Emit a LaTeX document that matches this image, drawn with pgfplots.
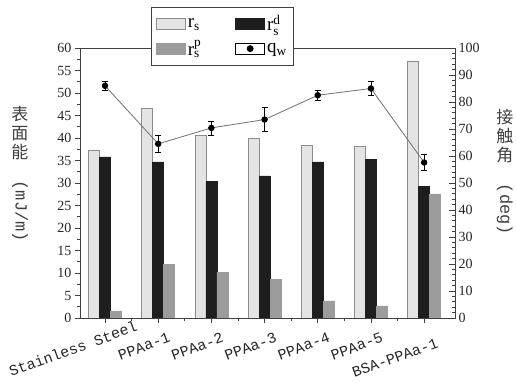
\documentclass[border=0pt]{standalone}
\usepackage{fontspec}
\setmainfont{Liberation Serif}
\newfontfamily\cjk{Noto Sans CJK SC}
\newfontfamily\monof{Liberation Mono}
\usepackage{pgfplots}
\pgfplotsset{compat=1.18}
\pgfplotsset{barleg/.style={legend image code/.code={\draw[##1] (0pt,-5.5pt) rectangle (29pt,5.5pt);}}}

\definecolor{lightbar}{HTML}{E4E4E4}
\definecolor{lightedge}{HTML}{8C8C8C}
\definecolor{darkbar}{HTML}{1E1E1E}
\definecolor{midbar}{HTML}{9C9C9C}
\definecolor{framec}{HTML}{404040}
\definecolor{linec}{HTML}{707070}

\begin{document}
\begin{tikzpicture}
\begin{axis}[name=ax, scale only axis, width=375pt, height=270pt,
  xmin=-0.47, xmax=6.58, ymin=0, ymax=60,
  ybar=0pt, bar width=11pt,
  xtick={0,...,6},
  xticklabels={{\raisebox{4.4pt}[\height][\depth]{Stainless Steel}\hspace*{-22.9pt}},PPAa-1,PPAa-2,PPAa-3,PPAa-4,PPAa-5,{\raisebox{-5.4pt}[\height][\depth]{BSA-PPAa-1}}},
  minor x tick num=1,
  ytick={0,5,...,60}, minor y tick num=1,
  tick align=outside, ytick pos=left, xtick pos=bottom,
  major tick length=5pt, minor tick length=3pt,
  axis line style={framec, line width=0.8pt},
  every tick/.style={framec, line width=0.7pt},
  /pgf/number format/assume math mode=true,
  yticklabel style={font=\fontsize{14}{14}\selectfont, text=black!85},
  x tick label style={font=\fontsize{15}{15}\selectfont\monof, text=black!85, rotate=20, anchor=north east, inner sep=0pt, xshift=6pt, yshift=-12pt},
  ylabel={{\cjk 表}\\{\cjk 面}\\{\cjk 能}\\[3pt]\rotatebox{-90}{\monof (mJ/m)}},
  ylabel style={rotate=-90, align=center, font=\fontsize{17}{19}\selectfont, text=black!75, at={(axis description cs:-0.16,0.533)}, anchor=center},
  legend style={at={(0.189,1.152)}, anchor=north west, draw=framec, line width=0.8pt, fill=white,
    font=\fontsize{19}{19}\selectfont, inner xsep=5pt, inner ysep=6pt, row sep=4pt,
    /tikz/every even column/.append style={column sep=32pt}},
  legend columns=2, legend cell align=left,
]
\addplot[fill=lightbar, draw=lightedge, line width=0.5pt, barleg]
  coordinates {(0,37.2) (1,46.6) (2,40.7) (3,39.9) (4,38.4) (5,38.2) (6,57.0)};
\addlegendentry{$\mathrm{r}_{\mathrm{s}}$}
\addplot[fill=darkbar, draw=darkbar, line width=0.5pt, barleg]
  coordinates {(0,35.8) (1,34.7) (2,30.3) (3,31.6) (4,34.7) (5,35.3) (6,29.3)};
\addlegendentry{$\mathrm{r}_{\mathrm{s}}^{\mathrm{d}}$}
\addplot[fill=midbar, draw=midbar, line width=0.5pt, barleg]
  coordinates {(0,1.6) (1,11.9) (2,10.2) (3,8.6) (4,3.8) (5,2.7) (6,27.6)};
\addlegendentry{$\mathrm{r}_{\mathrm{s}}^{\mathrm{p}}$}
\addlegendimage{legend image code/.code={\path (0pt,-5.5pt) rectangle (29pt,5.5pt); \fill[black] (14.5pt,0pt) circle (3pt);}}
\addlegendentry{$\mathrm{q}_{\mathrm{w}}$}
\end{axis}

\begin{axis}[scale only axis, width=375pt, height=270pt,
  xmin=-0.47, xmax=6.58, ymin=0, ymax=100,
  axis x line=none, axis y line*=right,
  ytick={0,10,...,100}, minor y tick num=4,
  tick align=inside, major tick length=6pt, minor tick length=3pt,
  axis line style={framec, line width=0.8pt},
  every tick/.style={framec, line width=0.7pt},
  /pgf/number format/assume math mode=true,
  yticklabel style={font=\fontsize{14}{14}\selectfont, text=black!85},
  ylabel={{\cjk 接}\\{\cjk 触}\\{\cjk 角}\\[3pt]\rotatebox{-90}{\monof (deg)}},
  ylabel style={rotate=-90, align=center, font=\fontsize{17}{19}\selectfont, text=black!75, at={(axis description cs:1.133,0.54)}, anchor=center},
]
\addplot[color=linec, line width=0.8pt, mark=*, mark size=2.8pt, mark options={black, fill=black},
  error bars/.cd, y dir=both, y explicit,
  error bar style={black, line width=0.6pt},
  error mark options={rotate=90, mark size=3pt, black, line width=0.6pt}]
  coordinates {(0,86.0) +- (0,1.5) (1,64.5) +- (0,3.0) (2,70.4) +- (0,2.6) (3,73.5) +- (0,4.5)
               (4,82.5) +- (0,2.0) (5,85.0) +- (0,2.6) (6,57.6) +- (0,3.0)};
\end{axis}
\pgfresetboundingbox
\path[use as bounding box] ([xshift=-80pt,yshift=-67pt]ax.south west) rectangle ([xshift=61pt,yshift=48pt]ax.north east);
\end{tikzpicture}
\end{document}
